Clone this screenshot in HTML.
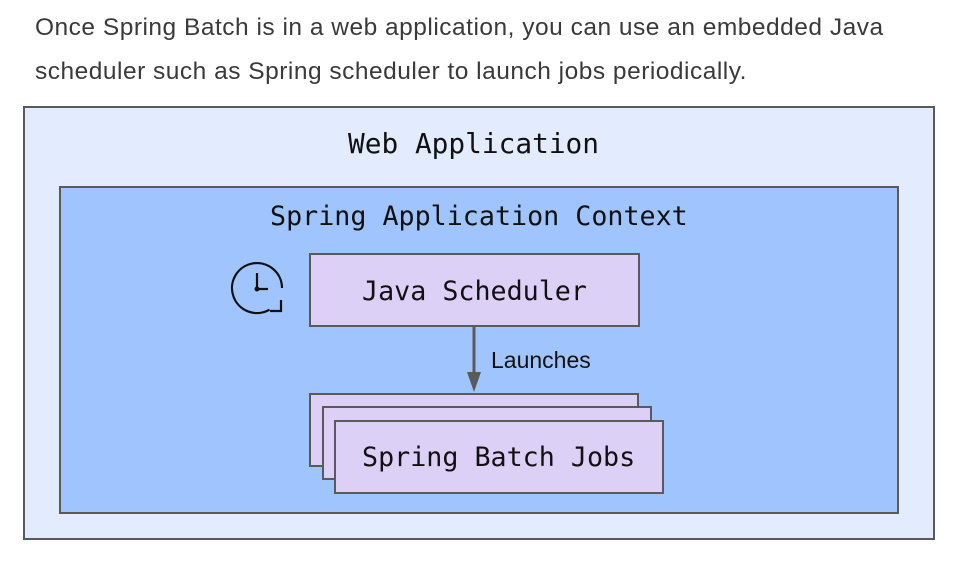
<!DOCTYPE html>
<html><head><style>
body{margin:0;background:#fff;width:958px;height:562px;overflow:hidden;position:relative;font-family:"Liberation Sans",sans-serif}
.p{position:absolute;left:35px;top:6px;font-size:24.5px;line-height:44px;color:#3a3a3a;width:900px;letter-spacing:0.5px}
.b{position:absolute;box-sizing:border-box;border:2px solid #5a5a5a}
.m{font-family:"DejaVu Sans Mono","Liberation Mono",monospace;color:#111;font-size:26.7px;position:absolute;white-space:nowrap;line-height:32px}
</style></head><body>
<div class="p">Once Spring Batch is in a web application, you can use an embedded Java scheduler such as Spring scheduler to launch jobs periodically.</div>
<div class="b" style="left:23px;top:106px;width:912px;height:434px;background:#e3ecfe"></div>
<div class="m" style="left:348px;top:128px;font-size:27.8px">Web Application</div>
<div class="b" style="left:59px;top:186px;width:840px;height:328px;background:#a0c4fe"></div>
<div class="m" style="left:270px;top:201px">Spring Application Context</div>
<div class="b" style="left:309px;top:253px;width:331px;height:74px;background:#dcd0f6"></div>
<div class="m" style="left:362px;top:276px">Java Scheduler</div>
<div class="b" style="left:309px;top:393px;width:330px;height:74px;background:#dcd0f6"></div>
<div class="b" style="left:322px;top:406px;width:330px;height:74px;background:#dcd0f6"></div>
<div class="b" style="left:334px;top:420px;width:330px;height:74px;background:#dcd0f6"></div>
<div class="m" style="left:362px;top:442px">Spring Batch Jobs</div>
<svg style="position:absolute;left:0;top:0" width="958" height="562">
<line x1="474" y1="327" x2="474" y2="374" stroke="#5a5a5a" stroke-width="3"/>
<polygon points="467,372 481,372 474,392" fill="#5a5a5a"/>
<g fill="none" stroke="#111" stroke-width="2.2">
<path d="M282 288 A25 25 0 1 0 269.5 309.7"/>
<polyline points="257,273 257,289 268,289"/>
<polyline points="270,311 281,311 281,300"/>
</g>
<circle cx="257" cy="289" r="2.5" fill="#111"/>
</svg>
<div style="position:absolute;left:491px;top:347px;font-size:23px;color:#111">Launches</div>
</body></html>
